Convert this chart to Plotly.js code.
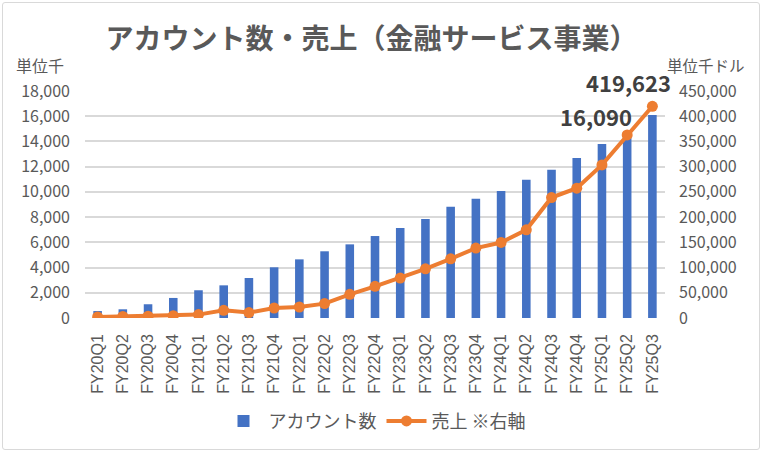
<!DOCTYPE html>
<html>
<head>
<meta charset="utf-8">
<script src="https://cdn.plot.ly/plotly-3.0.1.min.js"></script>
<style>
  body { margin:0; padding:0; background:#fff; }
  #wrap { position:relative; width:763px; height:452px; }
  #myDiv { width:763px; height:452px; }
  #frame { position:absolute; left:2px; top:2px; width:756px; height:446px;
           border:1px solid #d9d9d9; border-radius:3px; pointer-events:none; }
</style>
</head>
<body>
<div id="wrap"><div id="myDiv"></div><div id="frame"></div></div>
<script>
// quarters
var quarters = ['FY20Q1','FY20Q2','FY20Q3','FY20Q4','FY21Q1','FY21Q2','FY21Q3','FY21Q4',
                'FY22Q1','FY22Q2','FY22Q3','FY22Q4','FY23Q1','FY23Q2','FY23Q3','FY23Q4',
                'FY24Q1','FY24Q2','FY24Q3','FY24Q4','FY25Q1','FY25Q2','FY25Q3'];
// accounts (thousands)
var accounts = [550,690,1090,1590,2200,2590,3170,4020,4650,5290,5840,6500,
                7140,7850,8830,9460,10070,10970,11760,12690,13800,14600,16090];
// revenue (thousand USD)
var revenue = [2000,3000,3500,4500,6700,15300,10700,19800,21800,28500,47000,62700,
               79200,97600,117400,138600,149700,174800,238800,257400,303500,362900,419623];

var accTicks = [0,2000,4000,6000,8000,10000,12000,14000,16000,18000];
var revTicks = [0,50000,100000,150000,200000,250000,300000,350000,400000,450000];

var jp = '"Noto Sans CJK JP", "Noto Sans", sans-serif';
var lat = '"Liberation Sans", Arial, sans-serif';
var gray = '#595959';

function fmt(v) { return v.toLocaleString('en-US'); }

var last = quarters.length-1;

var traceBar = { x: quarters, y: accounts, type: 'bar', name: 'アカウント数',
                 marker: { color: '#4472C4' }, yaxis: 'y', hoverinfo: 'x+y' };
var traceLine = { x: quarters, y: revenue, type: 'scatter', mode: 'lines+markers',
                  name: '売上 ※右軸', yaxis: 'y2',
                  line: { color: '#ED7D31', width: 4 },
                  marker: { color: '#ED7D31', size: 11 } };

var layout = {
  width: 763, height: 452,
  paper_bgcolor: '#ffffff', plot_bgcolor: '#ffffff',
  margin: { l:85, r:98, t:91, b:134, autoexpand: false },
  font: { family: jp, color: gray, size: 14 },
  title: { text: '<b>アカウント数・売上（金融サービス事業）</b>',
           font: { family: jp, size: 28, color: gray },
           x: 0.487, xanchor: 'center', y: 0.913, yanchor: 'middle' },
  bargap: 0.66,
  showlegend: true,
  legend: { orientation: 'h', x: 0.5, xanchor: 'center', y: -0.455, yanchor: 'middle',
            font: { family: jp, size: 18, color: gray }, traceorder: 'normal',
            itemwidth: 40 },
  xaxis: { type: 'category', range: [-0.5, quarters.length-0.5], tickangle: -90,
           showgrid: false, showline: false,
           automargin: false, ticks: '', ticklabelstandoff: 12,
           tickfont: { family: lat, size: 16, color: gray } },
  yaxis: { range: [0,18000], tickvals: accTicks, ticktext: accTicks.map(fmt),
           showgrid: true, gridcolor: '#d9d9d9', gridwidth: 1.5, zeroline: false,
           showline: false, ticks: '', ticklabelstandoff: 14, automargin: false,
           tickfont: { family: jp, size: 16, color: gray } },
  yaxis2: { range: [0,450000], tickvals: revTicks, ticktext: revTicks.map(fmt),
            overlaying: 'y', side: 'right', showgrid: false, zeroline: false,
            showline: false, ticks: '', ticklabelstandoff: 13, automargin: false,
            tickfont: { family: jp, size: 16, color: gray } },
  annotations: [
    { text: '単位千', xref: 'paper', yref: 'paper', x: -0.122, y: 1.115,
      xanchor: 'left', yanchor: 'middle', showarrow: false,
      font: { family: jp, size: 16, color: gray } },
    { text: '単位千ドル', xref: 'paper', yref: 'paper', x: 1.0, y: 1.115,
      xanchor: 'left', yanchor: 'middle', showarrow: false,
      font: { family: jp, size: 15.5, color: gray } },
    { text: '<b>' + fmt(accounts[last]) + '</b>', xref: 'x', yref: 'y',
      x: quarters[last], y: accounts[last], xanchor: 'right', yanchor: 'middle',
      xshift: -18, yshift: -1, showarrow: false,
      font: { family: jp, size: 22, color: '#404040' } },
    { text: '<b>' + fmt(revenue[last]) + '</b>', xref: 'x', yref: 'y2',
      x: quarters[last], y: revenue[last], xanchor: 'center', yanchor: 'bottom',
      xshift: -24, yshift: 6, showarrow: false,
      font: { family: jp, size: 22, color: '#404040' } }
  ]
};

var config = { displayModeBar: false, responsive: false };
Plotly.newPlot('myDiv', [traceBar, traceLine], layout, config);
</script>
</body>
</html>
